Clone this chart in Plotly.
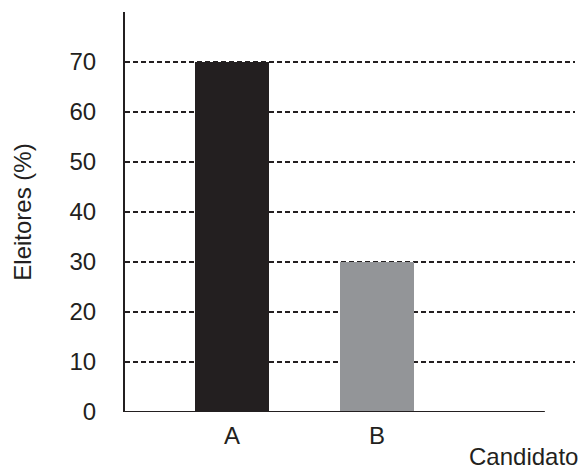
import plotly.graph_objects as go

categories = ["A", "B", "C"]
values = [70, 30, None]
bar_colors = ["#231f20", "#939598", "#ffffff"]
y_ticks = [0, 10, 20, 30, 40, 50, 60, 70]
tick_text = ["A", "B", ""]

fig = go.Figure()
fig.add_trace(go.Bar(x=[0, 1, 2], y=values, marker_color=bar_colors, width=0.51,
                     marker_line_width=0, showlegend=False))

for v in y_ticks[1:]:
    fig.add_shape(type="line", xref="paper", yref="y", x0=0, x1=1, y0=v, y1=v,
                  line=dict(color="#231f20", width=2, dash="5px,3px"), layer="below")

# x axis baseline
fig.add_shape(type="line", xref="paper", yref="y", x0=0, x1=0.933, y0=0, y1=0,
              line=dict(color="#231f20", width=2))

fig.add_annotation(text="Candidato", xref="paper", yref="paper", x=1.0, y=-0.1475,
                   xanchor="right", yanchor="bottom", xshift=4, showarrow=False,
                   borderpad=0, font=dict(size=24, color="#231f20"))

fig.update_layout(
    width=578, height=471,
    margin=dict(l=125, r=3, t=12, b=59),
    plot_bgcolor="white", paper_bgcolor="white",
    font=dict(family="Liberation Sans, Arial, sans-serif", size=24, color="#231f20"),
    bargap=0,
    xaxis=dict(range=[-0.738, 2.366], tickvals=[0, 1, 2], ticktext=tick_text,
               showgrid=False, zeroline=False, showline=False, ticks="", ticklen=0,
               ticklabelstandoff=7, tickfont=dict(size=24)),
    yaxis=dict(range=[0, 80], tickvals=y_ticks, showgrid=False, zeroline=False,
               showline=True, linecolor="#231f20", linewidth=2, ticks="",
               ticklabelstandoff=22, tickfont=dict(size=24),
               title=dict(text="Eleitores (%)", standoff=31, font=dict(size=24))),
)

fig.write_html("out.html", config={"displayModeBar": False},
               post_script="document.body.style.margin='0';")
